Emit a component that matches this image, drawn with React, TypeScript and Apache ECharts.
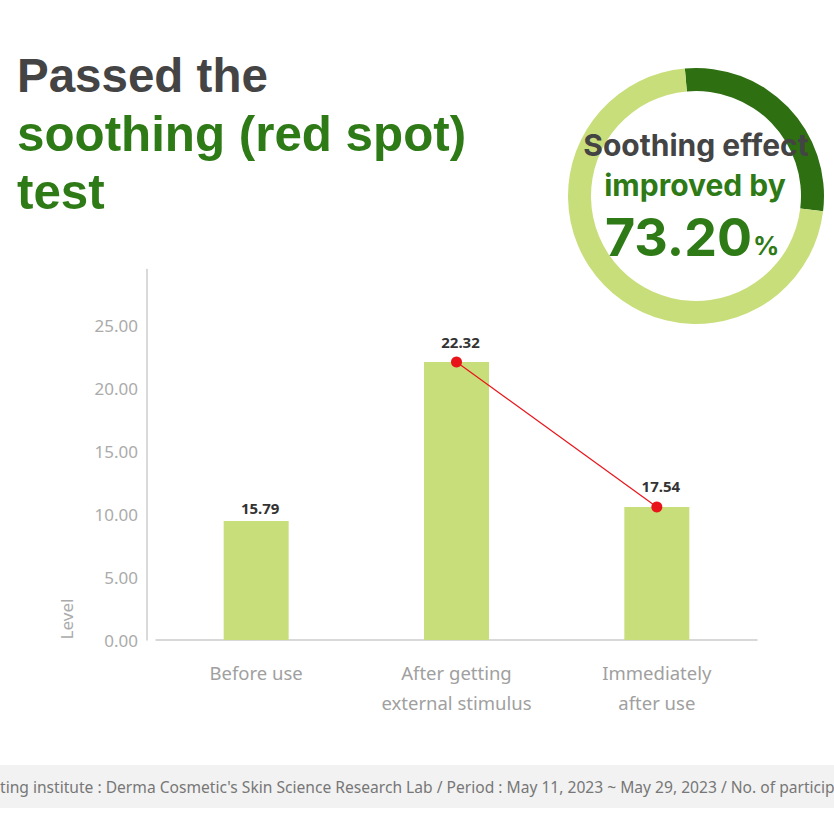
import React, { useEffect, useRef } from "react";
import * as echarts from "echarts";

const categories = ["Before use", "After getting\nexternal stimulus", "Immediately\nafter use"];
const barHeights = [9.44, 22.06, 10.56];
const barLabels = ["15.79", "22.32", "17.54"];
const lineValues: (number | string)[] = ["-", 22.06, 10.56];
const yTicks = [0, 5, 10, 15, 20, 25];
const donutValues = [28.3, 71.7];
const titleLines = ["Passed the", "soothing (red spot)", "test"];

const GREEN = "#2e7a16";
const LIGHT = "#c8de7a";

export default function App() {
  const ref = useRef<HTMLDivElement>(null);
  useEffect(() => {
    const chart = echarts.init(ref.current!, undefined, { renderer: "svg" });
    const option: any = {
      animation: false,
      backgroundColor: "#ffffff",
      grid: { left: 156, width: 601, top: 269.6, height: 370.4 },
      xAxis: {
        type: "category",
        data: categories,
        axisLine: { lineStyle: { color: "#cccccc", width: 1.5 } },
        axisTick: { show: false },
        axisLabel: {
          color: "#a0a0a0",
          fontSize: 18.5,
          lineHeight: 30,
          margin: 17,
          fontFamily: "Noto Sans",
        },
      },
      yAxis: {
        type: "value",
        min: 0,
        max: 29.4,
        interval: 5,
        offset: 9,
        axisLine: { show: true, lineStyle: { color: "#cccccc", width: 1.5 } },
        axisTick: { show: false },
        splitLine: { show: false },
        axisLabel: {
          color: "#ababab",
          fontSize: 17,
          margin: 9,
          fontFamily: "Noto Sans",
          showMaxLabel: false,
          formatter: (v: number) => (yTicks.includes(v) ? v.toFixed(2) : ""),
        },
      },
      series: [
        {
          type: "bar",
          data: barHeights.map((v, i) => ({
            value: v,
            label: { distance: lineValues[i] === "-" ? 6 : 13 },
          })),
          barWidth: 65,
          itemStyle: { color: LIGHT },
          label: {
            show: true,
            position: "top",
            formatter: (p: any) => barLabels[p.dataIndex],
            color: "#333333",
            fontWeight: "bold",
            fontSize: 15,
            fontFamily: "Noto Sans",
            offset: [4, 0],
          },
        },
        {
          type: "line",
          data: lineValues,
          symbol: "circle",
          symbolSize: 11,
          itemStyle: { color: "#e8141a" },
          lineStyle: { color: "#e8141a", width: 1.2 },
        },
        {
          type: "pie",
          center: [696, 196],
          radius: [105, 128],
          startAngle: 95,
          silent: true,
          label: { show: false },
          labelLine: { show: false },
          data: [
            { value: donutValues[0], itemStyle: { color: "#2e6f12" } },
            { value: donutValues[1], itemStyle: { color: LIGHT } },
          ],
        },
      ],
      graphic: [
        ...titleLines.map((t, i) => ({
          type: "text",
          x: 17,
          y: 75 + i * 58,
          style: {
            text: t,
            fill: i === 0 ? "#444444" : GREEN,
            font: i === 0 ? "bold 47.5px 'Liberation Sans'" : "bold 49.3px 'Liberation Sans'",
            align: "left",
            verticalAlign: "middle",
          },
        })),
        {
          type: "text",
          x: 696,
          y: 145,
          z: 100,
          style: {
            text: "Soothing effect",
            fill: "#444444",
            font: "bold 30px Inter",
            align: "center",
            verticalAlign: "middle",
          },
        },
        {
          type: "text",
          x: 695,
          y: 185,
          z: 100,
          style: {
            text: "improved by",
            fill: GREEN,
            font: "bold 30px Inter",
            align: "center",
            verticalAlign: "middle",
          },
        },
        {
          type: "text",
          x: 752,
          y: 237,
          z: 100,
          style: {
            text: "73.20",
            fill: GREEN,
            font: "bold 52px Inter",
            align: "right",
            verticalAlign: "middle",
          },
        },
        {
          type: "text",
          x: 753,
          y: 245,
          z: 100,
          style: {
            text: "%",
            fill: GREEN,
            font: "bold 26px Inter",
            align: "left",
            verticalAlign: "middle",
          },
        },
        {
          type: "text",
          x: 66,
          y: 619,
          rotation: Math.PI / 2,
          style: {
            text: "Level",
            fill: "#ababab",
            font: "17px 'Noto Sans'",
            align: "center",
            verticalAlign: "middle",
          },
        },
        {
          type: "rect",
          shape: { x: 0, y: 765, width: 834, height: 43 },
          style: { fill: "#f2f2f2" },
        },
        {
          type: "text",
          x: 0,
          y: 787,
          style: {
            text: "ting institute : Derma Cosmetic's Skin Science Research Lab / Period : May 11, 2023 ~ May 29, 2023 / No. of particip",
            fill: "#777777",
            font: "15.6px 'Noto Sans'",
            align: "left",
            verticalAlign: "middle",
          },
        },
      ],
    };
    chart.setOption(option);
    return () => chart.dispose();
  }, []);
  return (
    <div
      ref={ref}
      style={{ position: "fixed", left: 0, top: 0, width: 834, height: 834 }}
    />
  );
}
